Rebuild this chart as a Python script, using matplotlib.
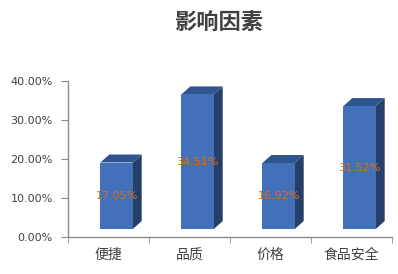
import numpy as np
import matplotlib.pyplot as plt
from matplotlib.patches import Polygon

plt.rcParams['font.family'] = ['Noto Sans CJK SC', 'DejaVu Sans']

## data
categories = ['便捷', '品质', '价格', '食品安全']
values = [17.05, 34.51, 16.92, 31.52]
yticks = [0, 10, 20, 30, 40]

## style
front_col = '#4271B9'
side_col = '#263F68'
top_col = '#30548F'
axis_col = '#8C8C8C'
text_col = '#404040'
label_col = '#E46C0A'

fig = plt.figure(figsize=(3.98, 2.74), dpi=100)
ax = fig.add_axes([68/398, 1-237/274, 324/398, 156/274])

base = 2.05     # front face sits a bit above the floor line
w = 0.40        # front face width
off = -0.10     # left edge of front face relative to category centre
dx, dy = 0.11, 2.05   # depth of the 3d bar

x = np.arange(len(categories))
for xi, v in zip(x, values):
    x0 = xi + off
    x1 = x0 + w
    top = base + v
    # side face
    ax.add_patch(Polygon([(x1, base), (x1 + dx, base + dy), (x1 + dx, top + dy), (x1, top)],
                         closed=True, facecolor=side_col, edgecolor='none'))
    # top face
    ax.add_patch(Polygon([(x0, top), (x0 + dx, top + dy), (x1 + dx, top + dy), (x1, top)],
                         closed=True, facecolor=top_col, edgecolor='none'))
    ax.bar(x0, v, width=w, bottom=base, align='edge', color=front_col, edgecolor='none')
    ax.text(x0 + w/2, base + v/2, '%.2f%%' % v, ha='center', va='center',
            fontsize=8, color=label_col, family=['DejaVu Sans'])

ax.set_xlim(-0.5, 3.5)
ax.set_ylim(0, 40)
ax.set_yticks(yticks)
ax.set_yticklabels(['%.2f%%' % t for t in yticks], fontsize=8, color=text_col,
                   family=['DejaVu Sans'])
ax.set_xticks(x)
ax.set_xticklabels(categories, fontsize=10, color=text_col)
ax.set_xticks(np.arange(-0.5, 4.0, 1.0), minor=True)
ax.tick_params(axis='x', which='major', length=0, pad=8)
ax.tick_params(axis='x', which='minor', length=4, color=axis_col, direction='out')
ax.tick_params(axis='y', length=5, color=axis_col, direction='out', pad=6)

for s in ['top', 'right']:
    ax.spines[s].set_visible(False)
for s in ['left', 'bottom']:
    ax.spines[s].set_color(axis_col)
    ax.spines[s].set_linewidth(1.0)

fig.text(219/398, 1-23/274, '影响因素', ha='center', va='center', fontsize=16,
         fontweight='bold', color=text_col)

fig.savefig('out.png', dpi=100)
